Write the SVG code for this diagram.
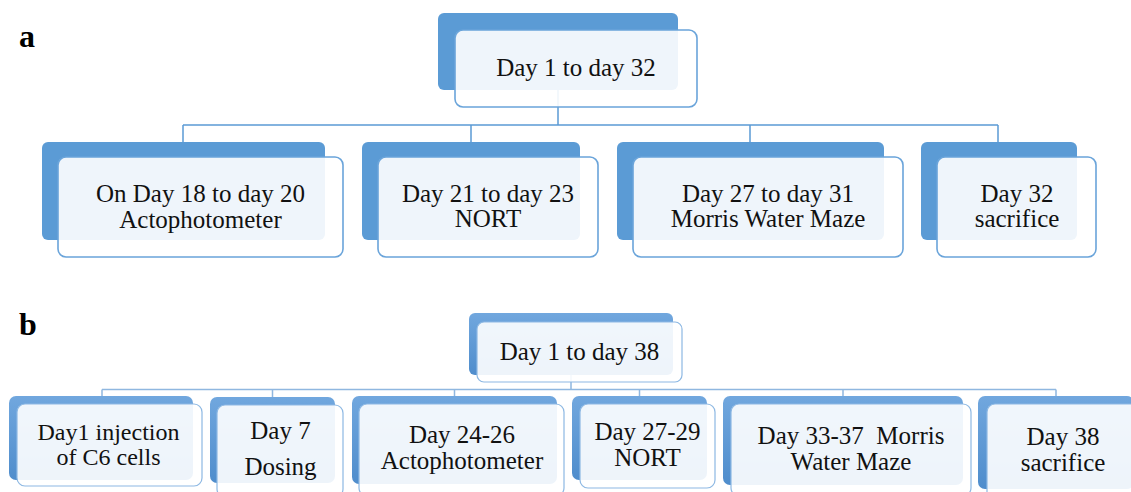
<svg xmlns="http://www.w3.org/2000/svg" width="1131" height="492" viewBox="0 0 1131 492">
<defs>
<linearGradient id="gb" x1="0" y1="0" x2="0" y2="1">
<stop offset="0" stop-color="#71a7de"/>
<stop offset="1" stop-color="#4f8dcc"/>
</linearGradient>
<style>
.ba{fill:#5b9bd5}
.bb{fill:url(#gb)}
.fa{fill:#ffffff;fill-opacity:0.9;stroke:#6aa4da;stroke-width:1.6}
.fb{fill:#ffffff;fill-opacity:0.9;stroke:#8db8e3;stroke-width:1.2}
.t{font-family:"Liberation Serif","Times New Roman",serif;font-size:25px;fill:#111;text-anchor:middle;white-space:pre}
.s{font-size:24px}
.lbl{font-family:"Liberation Serif","Times New Roman",serif;font-size:32px;font-weight:bold;fill:#000}
.ca{fill:none;stroke:#5b9bd5;stroke-width:1.5}
.cb{fill:none;stroke:#8fb7e0;stroke-width:1.5}
</style>
</defs>
<rect width="1131" height="492" fill="#fff"/>
<text class="lbl" x="19" y="47">a</text>
<text class="lbl" x="19" y="335">b</text>
<g id="connectors">
<path class="ca" d="M558 90V125M183 125H998M183 125V142M471 125V142M750 125V142M998 125V142"/>
<path class="cb" d="M571 375V389.5M102 389.5H1056M102 389.5V396M272.5 389.5V397M454.5 389.5V396M639.5 389.5V396M843 389.5V396M1056 389.5V396"/>
</g>
<g id="a-top">
<rect class="ba" x="438" y="13" width="240" height="77" rx="6"/>
<rect class="fa" x="455" y="30" width="242" height="77" rx="8"/>
<text class="t" x="576" y="76">Day 1 to day 32</text>
</g>
<g id="a-1">
<rect class="ba" x="42" y="142" width="283" height="98" rx="6"/>
<rect class="fa" x="58" y="157" width="285" height="100" rx="8"/>
<text class="t" x="200.5" y="202">On Day 18 to day 20</text>
<text class="t" x="200.5" y="228">Actophotometer</text>
</g>
<g id="a-2">
<rect class="ba" x="362" y="142" width="218" height="98" rx="6"/>
<rect class="fa" x="378" y="157" width="220" height="100" rx="8"/>
<text class="t" x="488" y="202">Day 21 to day 23</text>
<text class="t" x="488" y="227">NORT</text>
</g>
<g id="a-3">
<rect class="ba" x="617" y="142" width="267" height="98" rx="6"/>
<rect class="fa" x="633" y="157" width="270" height="100" rx="8"/>
<text class="t" x="768" y="202">Day 27 to day 31</text>
<text class="t" x="768" y="227">Morris Water Maze</text>
</g>
<g id="a-4">
<rect class="ba" x="921" y="142" width="156" height="98" rx="6"/>
<rect class="fa" x="937" y="157" width="159" height="100" rx="8"/>
<text class="t" x="1017" y="202">Day 32</text>
<text class="t" x="1017" y="227">sacrifice</text>
</g>
<g id="b-top">
<rect class="bb" x="469" y="313" width="204" height="62" rx="6"/>
<rect class="fb" x="477" y="322" width="205" height="60" rx="7"/>
<text class="t" x="579.5" y="360">Day 1 to day 38</text>
</g>
<g id="b-1">
<rect class="bb" x="9" y="396" width="184" height="84" rx="7"/>
<rect class="fb" x="17" y="404" width="185" height="82" rx="8"/>
<text class="t s" x="108.5" y="440">Day1 injection</text>
<text class="t s" x="108.5" y="465">of C6 cells</text>
</g>
<g id="b-2">
<rect class="bb" x="210" y="397" width="125" height="86" rx="7"/>
<rect class="fb" x="217" y="405" width="126" height="92" rx="8"/>
<text class="t" x="280.5" y="439">Day 7</text>
<text class="t" x="280.5" y="475">Dosing</text>
</g>
<g id="b-3">
<rect class="bb" x="352" y="396" width="205" height="88" rx="7"/>
<rect class="fb" x="359" y="404" width="205" height="92" rx="8"/>
<text class="t" x="462" y="443">Day 24-26</text>
<text class="t" x="462" y="469">Actophotometer</text>
</g>
<g id="b-4">
<rect class="bb" x="572" y="396" width="135" height="84" rx="7"/>
<rect class="fb" x="580" y="404" width="135" height="84" rx="8"/>
<text class="t" x="647.5" y="440">Day 27-29</text>
<text class="t" x="647.5" y="466">NORT</text>
</g>
<g id="b-5">
<rect class="bb" x="723" y="396" width="240" height="89" rx="7"/>
<rect class="fb" x="731" y="404" width="240" height="92" rx="8"/>
<text class="t" x="851" y="444">Day 33-37  Morris</text>
<text class="t" x="851" y="470">Water Maze</text>
</g>
<g id="b-6">
<rect class="bb" x="978" y="396" width="156" height="93" rx="7"/>
<rect class="fb" x="987" y="404" width="156" height="96" rx="8"/>
<text class="t" x="1063" y="445">Day 38</text>
<text class="t" x="1063" y="471">sacrifice</text>
</g>
</svg>
